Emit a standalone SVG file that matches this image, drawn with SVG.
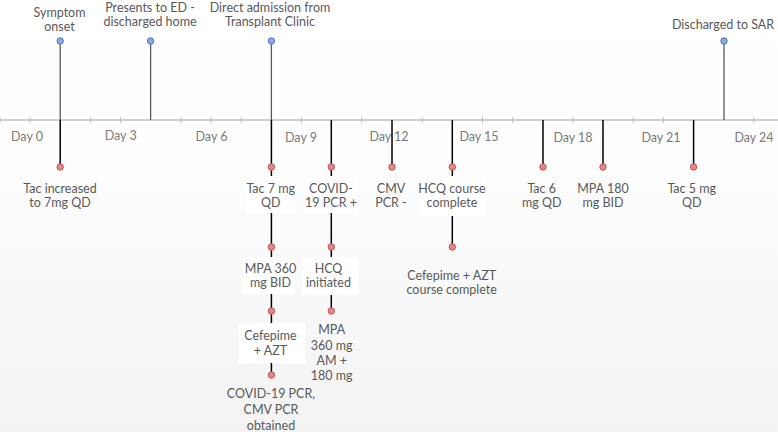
<svg xmlns="http://www.w3.org/2000/svg" width="778" height="432" viewBox="0 0 778 432">
<defs>
<linearGradient id="bg" x1="0" y1="0" x2="0" y2="1">
<stop offset="0" stop-color="#ffffff"/>
<stop offset="0.4" stop-color="#fdfdfd"/>
<stop offset="1" stop-color="#f3f3f3"/>
</linearGradient>
</defs>
<style>
.t{font-family:Lato,"Liberation Sans",sans-serif;font-size:12.5px;fill:#595959;text-anchor:middle}
.day{font-family:Lato,"Liberation Sans",sans-serif;font-size:12.5px;fill:#7a7a7a;text-anchor:middle}
.axis{stroke:#bfbfbf;stroke-width:1.3}
.tick{stroke:#bfbfbf;stroke-width:1}
.up{stroke:#595959;stroke-width:1.3}
.dn{stroke:#000000;stroke-width:1.5}
.bd{fill:#8eaadb;stroke:#4472c4;stroke-width:1}
.rd{fill:#e08a8a;stroke:#c0504d;stroke-width:1}
.box{fill:#ffffff}
</style>
<rect x="0" y="0" width="778" height="432" fill="url(#bg)"/>

<g id="axis">
<line class="axis" x1="0" y1="120" x2="778" y2="120"/>
<g class="tick">
<line x1="0" y1="117" x2="0" y2="123"/>
<line x1="30" y1="117" x2="30" y2="123"/>
<line x1="90.3" y1="117" x2="90.3" y2="123"/>
<line x1="120.6" y1="117" x2="120.6" y2="123"/>
<line x1="180.9" y1="117" x2="180.9" y2="123"/>
<line x1="211" y1="117" x2="211" y2="123"/>
<line x1="241.2" y1="117" x2="241.2" y2="123"/>
<line x1="301.5" y1="117" x2="301.5" y2="123"/>
<line x1="361.6" y1="117" x2="361.6" y2="123"/>
<line x1="422.1" y1="117" x2="422.1" y2="123"/>
<line x1="482.4" y1="117" x2="482.4" y2="123"/>
<line x1="512.6" y1="117" x2="512.6" y2="123"/>
<line x1="573" y1="117" x2="573" y2="123"/>
<line x1="633.2" y1="117" x2="633.2" y2="123"/>
<line x1="663.4" y1="117" x2="663.4" y2="123"/>
<line x1="753.8" y1="117" x2="753.8" y2="123"/>
</g>
<text class="day" x="27" y="141">Day 0</text>
<text class="day" x="120.7" y="139.5">Day 3</text>
<text class="day" x="211.5" y="140.5">Day 6</text>
<text class="day" x="301" y="142">Day 9</text>
<text class="day" x="389" y="141">Day 12</text>
<text class="day" x="479" y="141">Day 15</text>
<text class="day" x="573" y="142">Day 18</text>
<text class="day" x="661" y="142">Day 21</text>
<text class="day" x="754" y="142">Day 24</text>
</g>

<g id="connectors">
<line class="up" x1="60.2" y1="41" x2="60.2" y2="120"/>
<line class="up" x1="150.6" y1="41" x2="150.6" y2="120"/>
<line class="up" x1="271.4" y1="41" x2="271.4" y2="120"/>
<line class="up" x1="724" y1="41" x2="724" y2="120"/>
<line class="dn" x1="60.2" y1="120" x2="60.2" y2="167"/>
<line class="dn" x1="271.4" y1="120" x2="271.4" y2="375"/>
<line class="dn" x1="331.3" y1="120" x2="331.3" y2="311"/>
<line class="dn" x1="392" y1="120" x2="392" y2="167"/>
<line class="dn" x1="452.3" y1="120" x2="452.3" y2="247"/>
<line class="dn" x1="543" y1="120" x2="543" y2="167"/>
<line class="dn" x1="603" y1="120" x2="603" y2="167"/>
<line class="dn" x1="693.6" y1="120" x2="693.6" y2="167"/>
</g>

<g id="symptom-onset">
<circle class="bd" cx="60.2" cy="41" r="3.2"/>
<text class="t"><tspan x="59.5" y="16.5">Symptom</tspan><tspan x="59.5" y="31">onset</tspan></text>
</g>
<g id="presents-ed">
<circle class="bd" cx="150.6" cy="41" r="3.2"/>
<text class="t"><tspan x="150" y="11.5">Presents to ED -</tspan><tspan x="150" y="26">discharged home</tspan></text>
</g>
<g id="direct-admission">
<circle class="bd" cx="271.4" cy="41" r="3.2"/>
<text class="t"><tspan x="270" y="11.5">Direct admission from</tspan><tspan x="270" y="26">Transplant Clinic</tspan></text>
</g>
<g id="discharged-sar">
<circle class="bd" cx="724" cy="41" r="3.2"/>
<text class="t"><tspan x="723" y="28.5">Discharged to SAR</tspan></text>
</g>

<g id="tac-increased">
<circle class="rd" cx="60.2" cy="167" r="3.2"/>
<text class="t"><tspan x="60" y="192.7">Tac increased</tspan><tspan x="60" y="207">to 7mg QD</tspan></text>
</g>
<g id="tac-7mg">
<rect class="box" x="246" y="176" width="50" height="37"/>
<circle class="rd" cx="271.4" cy="167" r="3.2"/>
<text class="t"><tspan x="270.7" y="192.7">Tac 7 mg</tspan><tspan x="270.7" y="207">QD</tspan></text>
</g>
<g id="mpa-360-bid">
<rect class="box" x="243" y="257" width="52" height="37"/>
<circle class="rd" cx="271.4" cy="247" r="3.2"/>
<text class="t"><tspan x="270.5" y="272.7">MPA 360</tspan><tspan x="270.5" y="287">mg BID</tspan></text>
</g>
<g id="cefepime-azt">
<rect class="box" x="239" y="323" width="66" height="40"/>
<circle class="rd" cx="271.4" cy="311" r="3.2"/>
<text class="t"><tspan x="270.5" y="340.4">Cefepime</tspan><tspan x="270.5" y="355">+ AZT</tspan></text>
</g>
<g id="covid-cmv-obtained">
<circle class="rd" cx="271.4" cy="375" r="3.2"/>
<text class="t"><tspan x="271" y="398.4">COVID-19 PCR,</tspan><tspan x="271" y="414.4">CMV PCR</tspan><tspan x="271" y="430.4">obtained</tspan></text>
</g>
<g id="covid-positive">
<rect class="box" x="304" y="176" width="54" height="37"/>
<circle class="rd" cx="331.3" cy="167" r="3.2"/>
<text class="t"><tspan x="331" y="192.7">COVID-</tspan><tspan x="331" y="207">19 PCR +</tspan></text>
</g>
<g id="hcq-initiated">
<rect class="box" x="302" y="257" width="56" height="38"/>
<circle class="rd" cx="331.3" cy="247" r="3.2"/>
<text class="t"><tspan x="328.5" y="272.7">HCQ</tspan><tspan x="328.5" y="287">initiated</tspan></text>
</g>
<g id="mpa-360-am">
<circle class="rd" cx="331.3" cy="311" r="3.2"/>
<text class="t"><tspan x="331.7" y="334.4">MPA</tspan><tspan x="331.7" y="349.6">360 mg</tspan><tspan x="331.7" y="365">AM +</tspan><tspan x="331.7" y="380.2">180 mg</tspan></text>
</g>
<g id="cmv-negative">
<circle class="rd" cx="392" cy="167" r="3.2"/>
<text class="t"><tspan x="391" y="192.7">CMV</tspan><tspan x="391" y="207">PCR -</tspan></text>
</g>
<g id="hcq-complete">
<rect class="box" x="420" y="176" width="65" height="40"/>
<circle class="rd" cx="452.3" cy="167" r="3.2"/>
<text class="t"><tspan x="452" y="192.7">HCQ course</tspan><tspan x="452" y="207">complete</tspan></text>
</g>
<g id="cefepime-complete">
<circle class="rd" cx="452.3" cy="247" r="3.2"/>
<text class="t"><tspan x="451.7" y="280">Cefepime + AZT</tspan><tspan x="451.7" y="294.4">course complete</tspan></text>
</g>
<g id="tac-6mg">
<circle class="rd" cx="543" cy="167" r="3.2"/>
<text class="t"><tspan x="541.7" y="192.7">Tac 6</tspan><tspan x="541.7" y="207">mg QD</tspan></text>
</g>
<g id="mpa-180">
<circle class="rd" cx="603" cy="167" r="3.2"/>
<text class="t"><tspan x="603" y="192.7">MPA 180</tspan><tspan x="603" y="207">mg BID</tspan></text>
</g>
<g id="tac-5mg">
<circle class="rd" cx="693.6" cy="167" r="3.2"/>
<text class="t"><tspan x="691.7" y="192.7">Tac 5 mg</tspan><tspan x="691.7" y="207">QD</tspan></text>
</g>
</svg>
